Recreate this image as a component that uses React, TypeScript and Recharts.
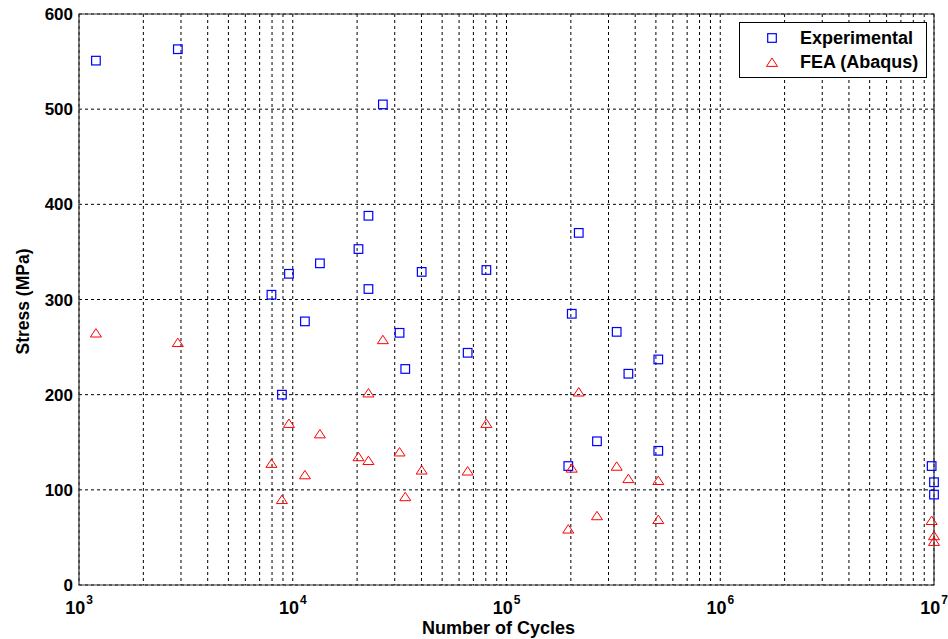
import React from 'react';
import {
  ScatterChart,
  Scatter,
  XAxis,
  YAxis,
  CartesianGrid,
  ReferenceArea,
  Legend,
} from 'recharts';

const FONT = '"Liberation Sans", Arial, sans-serif';

// Experimental data (cycles, stress MPa)
const expCycles = [
  1200, 2900, 26400, 22600, 20300, 13400, 9600, 7950, 22600, 11400, 8900,
  40100, 217800, 80500, 202000, 31600, 327700, 65800, 513000, 33600, 371700,
  265000, 513000, 194600, 9750000, 10000000, 10000000,
];
const expStress = [
  551, 563, 505, 388, 353, 338, 327, 305, 311, 277, 200,
  329, 370, 331, 285, 265, 266, 244, 237, 227, 222,
  151, 141, 125, 125, 108, 95,
];

// FEA (Abaqus) data
const feaCycles = [
  1200, 2900, 22600, 9600, 13400, 20300, 22600, 7950, 11400, 8900, 26400,
  217800, 80500, 31600, 40100, 65800, 202000, 327700, 371700, 513000, 33600,
  265000, 513000, 194600, 9750000, 10000000, 10000000,
];
const feaStress = [
  265, 255, 202, 170, 159, 135, 131, 128, 116, 90, 258,
  203, 170, 140, 121, 120, 123, 125, 112, 110, 93,
  73, 69, 59, 68, 52, 46,
];

const seriesNames = ['Experimental', 'FEA (Abaqus)'];
const xMajorExponents = [3, 4, 5, 6, 7];
const yTicks = [0, 100, 200, 300, 400, 500, 600];

const xTicks: number[] = [];
for (let e = 3; e < 7; e++) {
  for (let m = 1; m <= 9; m++) xTicks.push(m * Math.pow(10, e));
}
xTicks.push(1e7);

const expData = expCycles.map((c, i) => ({ cycles: c, stress: expStress[i] }));
const feaData = feaCycles.map((c, i) => ({ cycles: c, stress: feaStress[i] }));

const SquareShape = (props: any) => {
  const { cx, cy } = props;
  if (cx == null || cy == null) return null;
  const h = 4.3;
  return (
    <rect x={cx - h} y={cy - h} width={2 * h} height={2 * h} fill="none" stroke="#0000FF" strokeWidth={1.2} />
  );
};

const TriangleShape = (props: any) => {
  const { cx, cy } = props;
  if (cx == null || cy == null) return null;
  const w = 5.5;
  const h = 4.2;
  return (
    <path
      d={`M${cx},${cy - h} L${cx + w},${cy + h} L${cx - w},${cy + h} Z`}
      fill="none"
      stroke="#FF0000"
      strokeWidth={1}
    />
  );
};

const XTick = (props: any) => {
  const { x, y, payload } = props;
  const v = payload.value;
  const e = Math.round(Math.log10(v));
  if (Math.abs(Math.pow(10, e) - v) > 1e-6 * v) return null;
  if (!xMajorExponents.includes(e)) return null;
  return (
    <text x={x} y={y + 29} textAnchor="middle" fontFamily={FONT} fontWeight="bold" fill="#000">
      <tspan fontSize={18}>10</tspan>
      <tspan fontSize={12} dy={-10} dx={1}>{e}</tspan>
    </text>
  );
};

const LegendBox = (props: any) => {
  const payload = props.payload || [];
  return (
    <div
      style={{
        width: 188,
        height: 56,
        border: '1px solid #000',
        background: '#fff',
        boxSizing: 'border-box',
        position: 'relative',
        fontFamily: FONT,
        fontWeight: 'bold',
        fontSize: 18,
        color: '#000',
      }}
    >
      {payload.map((p: any, i: number) => (
        <div key={i} style={{ position: 'absolute', left: 0, top: 3 + i * 24, height: 24, width: '100%' }}>
          <svg width={20} height={20} style={{ position: 'absolute', left: 22, top: 2 }}>
            {i === 0 ? (
              <rect x={5.7} y={5.7} width={8.6} height={8.6} fill="none" stroke="#0000FF" strokeWidth={1.2} />
            ) : (
              <path d="M10,6 L15.5,14.4 L4.5,14.4 Z" fill="none" stroke="#FF0000" strokeWidth={1} />
            )}
          </svg>
          <span style={{ position: 'absolute', left: 60, top: 1, lineHeight: '22px', whiteSpace: 'nowrap' }}>
            {p.value}
          </span>
        </div>
      ))}
    </div>
  );
};

export default function App() {
  return (
    <div style={{ position: 'absolute', left: 0, top: 0, background: '#fff' }}>
      <ScatterChart
        width={948}
        height={639}
        margin={{ top: 14, right: 14, left: 0, bottom: 0 }}
        style={{ background: '#fff' }}
      >
        <CartesianGrid stroke="#000" strokeDasharray="3 3" strokeWidth={1} />
        <XAxis
          dataKey="cycles"
          type="number"
          scale="log"
          domain={[1000, 10000000]}
          ticks={xTicks}
          interval={0}
          axisLine={false}
          tickLine={false}
          tickSize={0}
          tickMargin={0}
          height={54}
          tick={<XTick />}
          label={{
            content: (p: any) => {
              const vb = p.viewBox;
              return (
                <text
                  x={vb.x + vb.width / 2 - 8}
                  y={634}
                  textAnchor="middle"
                  fontFamily={FONT}
                  fontWeight="bold"
                  fontSize={18}
                  fill="#000"
                >
                  Number of Cycles
                </text>
              );
            },
          }}
        />
        <YAxis
          dataKey="stress"
          type="number"
          domain={[0, 600]}
          ticks={yTicks}
          interval={0}
          width={79}
          axisLine={false}
          tickLine={false}
          tickSize={0}
          tickMargin={6}
          tick={{ fill: '#000', fontSize: 17, fontWeight: 'bold', fontFamily: FONT }}
          label={{
            content: (p: any) => {
              const vb = p.viewBox;
              const cy = vb.y + vb.height / 2 + 2;
              return (
                <text
                  x={29}
                  y={cy}
                  transform={`rotate(-90, 29, ${cy})`}
                  textAnchor="middle"
                  fontFamily={FONT}
                  fontWeight="bold"
                  fontSize={17.5}
                  fill="#000"
                >
                  Stress (MPa)
                </text>
              );
            },
          }}
        />
        <ReferenceArea
          x1={1000}
          x2={10000000}
          y1={0}
          y2={600}
          fill="none"
          fillOpacity={0}
          stroke="#333"
          strokeWidth={1.2}
          ifOverflow="visible"
        />
        <Legend
          layout="vertical"
          align="center"
          verticalAlign="middle"
          content={<LegendBox />}
          wrapperStyle={{ position: 'absolute', left: 739, top: 22, width: 188, height: 56 }}
        />
        <Scatter
          name={seriesNames[0]}
          data={expData}
          fill="#0000FF"
          shape={<SquareShape />}
          isAnimationActive={false}
        />
        <Scatter
          name={seriesNames[1]}
          data={feaData}
          fill="#FF0000"
          shape={<TriangleShape />}
          isAnimationActive={false}
        />
      </ScatterChart>
    </div>
  );
}
